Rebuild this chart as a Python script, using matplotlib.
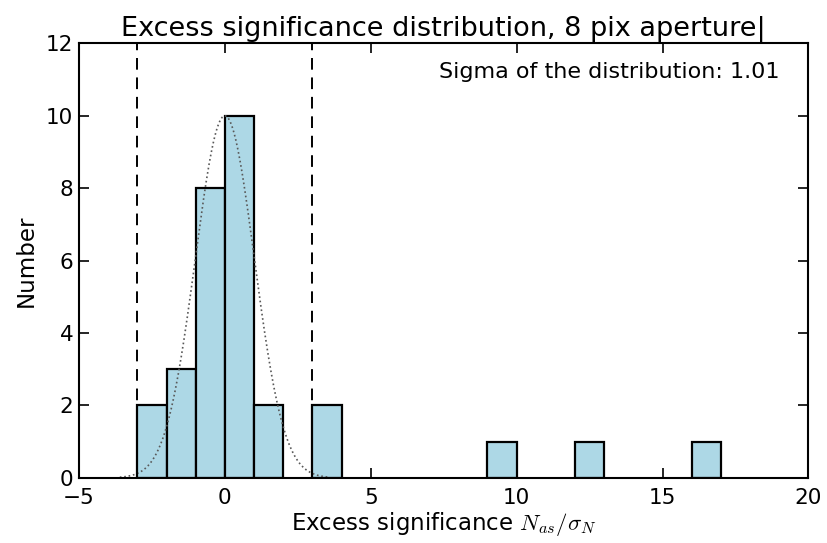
import numpy as np
import matplotlib
matplotlib.use("Agg")
import matplotlib.pyplot as plt

# histogram bins (left edges) and counts
bin_left = [-3, -2, -1, 0, 1, 3, 9, 12, 16]
counts = [2, 3, 8, 10, 2, 2, 1, 1, 1]
bin_width = 1.0

# gaussian fit parameters
g_amp = 10.0
g_mean = 0.0
g_sigma = 1.01
cut = 3.0

plt.rcParams["xtick.direction"] = "in"
plt.rcParams["ytick.direction"] = "in"
plt.rcParams["xtick.top"] = True
plt.rcParams["ytick.right"] = True
plt.rcParams["mathtext.fontset"] = "cm"

fig = plt.figure(figsize=(8.27, 5.43), dpi=100)
ax = fig.add_axes([0.0955, 0.12, 0.882, 0.80])

ax.bar(bin_left, counts, width=bin_width, align="edge", color="lightblue",
       edgecolor="black", linewidth=1.6)

xg = np.linspace(-3.6, 3.6, 300)
ax.plot(xg, g_amp * np.exp(-0.5 * ((xg - g_mean) / g_sigma) ** 2), ":",
        color="0.35", linewidth=1.2)

ax.axvline(-cut, color="black", linestyle="--", dashes=(6, 4), linewidth=1.4)
ax.axvline(cut, color="black", linestyle="--", dashes=(6, 4), linewidth=1.4)

ax.text(19.0, 11.2, f"Sigma of the distribution: {g_sigma:.2f}", ha="right",
        va="center", fontsize=16)

ax.set_xlim(-5, 20)
ax.set_ylim(0, 12)
ax.set_xticks([-5, 0, 5, 10, 15, 20])
ax.set_yticks([0, 2, 4, 6, 8, 10, 12])
ax.tick_params(labelsize=15.5, length=7, width=1.2)
ax.tick_params(axis="x", pad=7)
ax.tick_params(axis="y", pad=4)
for s in ax.spines.values():
    s.set_linewidth(1.5)

ax.set_xlabel(r"Excess significance $N_{as}/\sigma_N$", fontsize=16.5, labelpad=2)
ax.set_ylabel("Number", fontsize=16.5, labelpad=6)
ax.set_title("Excess significance distribution, 8 pix aperture|", fontsize=19.5, pad=4)

fig.savefig("out.png", dpi=100)
